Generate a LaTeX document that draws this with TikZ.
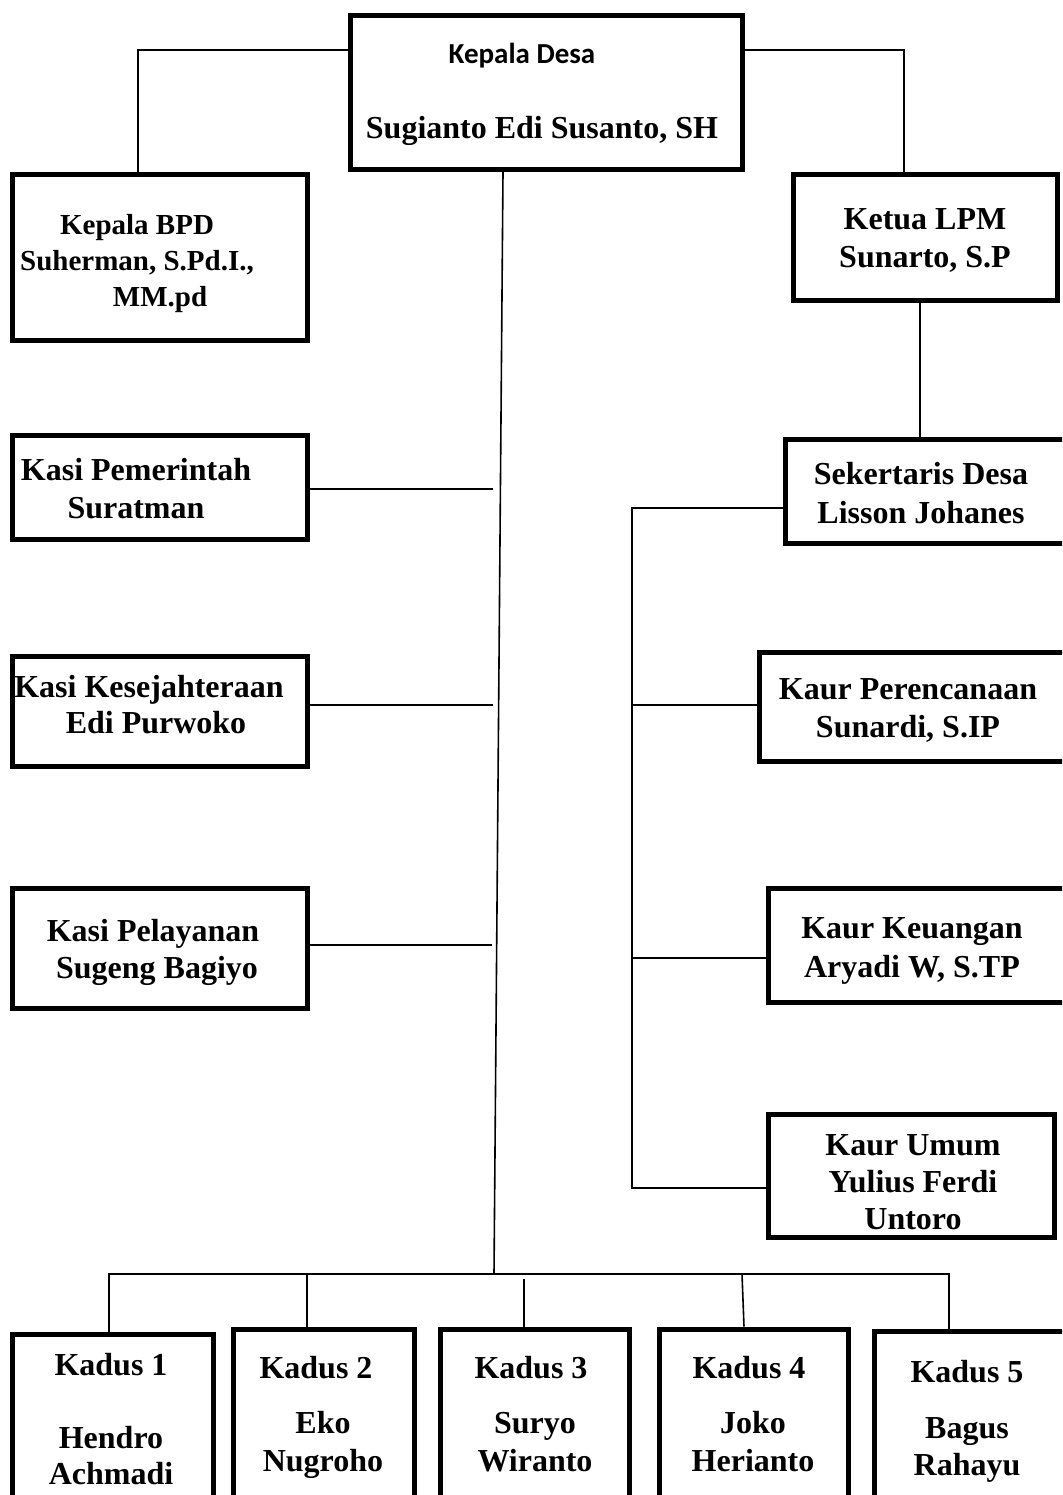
\documentclass[tikz,border=0pt]{standalone}
\usepackage{fontspec}
\setmainfont{Liberation Serif}
\newfontfamily\calib{Carlito}
\begin{document}
\begin{tikzpicture}[x=1pt,y=-1pt,
  box/.style={draw, line width=5pt, rectangle, inner sep=0pt},
  conn/.style={draw, line width=1.6pt},
  txt/.style={font=\bfseries\fontsize{32}{37}\selectfont, align=center, inner sep=0pt, anchor=base},
  txtsm/.style={font=\bfseries\fontsize{29}{36}\selectfont, align=center, inner sep=0pt, anchor=base}]
\useasboundingbox (0,0) rectangle (1062,1495);
\clip (0,0) rectangle (1062,1495);
\fill[white] (0,0) rectangle (1062,1495);

% boxes
\node[box, minimum width=392pt, minimum height=154pt] (kd) at (546.5,92.5) {};
\node[box, minimum width=295pt, minimum height=166pt] (bpd) at (160,257.5) {};
\node[box, minimum width=264pt, minimum height=126pt] (lpm) at (925.5,237.5) {};
\node[box, minimum width=290pt, minimum height=104pt] (sek) at (930,491.5) {};
\node[box, minimum width=316pt, minimum height=109pt] (kper) at (917,707) {};
\node[box, minimum width=307pt, minimum height=114pt] (kkeu) at (921.5,945.5) {};
\node[box, minimum width=286pt, minimum height=123pt] (kumum) at (911.5,1176) {};
\node[box, minimum width=295pt, minimum height=104pt] (kpem) at (160,487.5) {};
\node[box, minimum width=295pt, minimum height=110pt] (kkes) at (160,711.5) {};
\node[box, minimum width=295pt, minimum height=120pt] (kpel) at (160,948.5) {};
\node[box, minimum width=201pt, minimum height=176pt] (kd1) at (113,1422) {};
\node[box, minimum width=181pt, minimum height=181pt] (kd2) at (324,1419.5) {};
\node[box, minimum width=189pt, minimum height=181pt] (kd3) at (535,1419.5) {};
\node[box, minimum width=189pt, minimum height=181pt] (kd4) at (754,1419.5) {};
\node[box, minimum width=201pt, minimum height=179pt] (kd5) at (974.5,1420.5) {};

% texts (anchor = baseline of the last line)
\node[txt, font=\calib\bfseries\fontsize{29}{34}\selectfont] (tkd1) at (522,64) {Kepala Desa};
\node[txt] (tkd2) at (542,139) {Sugianto Edi Susanto, SH};
\node[txtsm] (tbpd) at (137,307) {Kepala BPD\\Suherman, S.Pd.I.,\\\hspace*{46pt}MM.pd};
\node[txt] (tlpm) at (925,268) {Ketua LPM\\[1pt]Sunarto, S.P};
\node[txt] (tsek) at (921,523) {Sekertaris Desa\\[2pt]Lisson Johanes};
\node[txt] (tkper) at (908,737) {Kaur Perencanaan\\[1pt]Sunardi, S.IP};
\node[txt] (tkkeu) at (912,977) {Kaur Keuangan\\[2pt]Aryadi W, S.TP};
\node[txt] (tkumum) at (913,1229) {Kaur Umum\\Yulius Ferdi\\Untoro};
\node[txt] (tkpem) at (136,518) {Kasi Pemerintah\\[1pt]Suratman};
\node[txt] (tkkes) at (149,733) {Kasi Kesejahteraan\\[-1pt]\hspace*{14pt}Edi Purwoko};
\node[txt] (tkpel) at (153,978) {Kasi Pelayanan\\\hspace*{8pt}Sugeng Bagiyo};
\node[txt] (tkda) at (111,1484) {Kadus 1\\[36pt]Hendro\\[-1pt]Achmadi};
\node[txt] (tkdb) at (323,1471) {Kadus 2\hspace*{14pt}\\[18pt]Eko\hspace*{14pt}\\[1pt]Nugroho};
\node[txt] (tkdc) at (535,1471) {Kadus 3\hspace*{8pt}\\[18pt]Suryo\hspace*{16pt}\\[1pt]Wiranto};
\node[txt] (tkdd) at (753,1471) {Kadus 4\hspace*{8pt}\\[18pt]Joko\hspace*{8pt}\\[1pt]Herianto};
\node[txt] (tkde) at (967,1475) {Kadus 5\\[19pt]Bagus\\Rahayu};

% coordinates
\coordinate (kdL) at (138,50);
\coordinate (kdR) at (904,50);
\coordinate (ls) at (920,0);
\coordinate (tt) at (503,0);
\coordinate (tb) at (494,1274);
\coordinate (b1) at (493,489);
\coordinate (b2) at (493,705);
\coordinate (b3) at (492,945);
\coordinate (sb) at (632,508);
\coordinate (sp) at (632,705);
\coordinate (sk) at (632,958);
\coordinate (sbe) at (632,1188);
\coordinate (bl) at (109,1274);
\coordinate (br) at (949,1274);
\coordinate (x2) at (307,1274);
\coordinate (x3) at (524,1279);
\coordinate (x4) at (742,1274);
\coordinate (x4b) at (744,0);

% connectors
\draw[conn] (kd.west |- kdL) -- (kdL) -- (bpd.north -| kdL);
\draw[conn] (kd.east |- kdR) -- (kdR) -- (lpm.north -| kdR);
\draw[conn] (lpm.south -| ls) -- (sek.north -| ls);
\draw[conn] (kd.south -| tt) -- (tb);
\draw[conn] (kpem.east |- b1) -- (b1);
\draw[conn] (kkes.east |- b2) -- (b2);
\draw[conn] (kpel.east |- b3) -- (b3);
\draw[conn] (sek.west |- sb) -- (sb) -- (sbe) -- (kumum.west |- sbe);
\draw[conn] (sp) -- (kper.west |- sp);
\draw[conn] (sk) -- (kkeu.west |- sk);
\draw[conn] (kd1.north -| bl) -- (bl) -- (br) -- (kd5.north -| br);
\draw[conn] (x2) -- (kd2.north -| x2);
\draw[conn] (x3) -- (kd3.north -| x3);
\draw[conn] (x4) -- (kd4.north -| x4b);
\end{tikzpicture}
\end{document}
